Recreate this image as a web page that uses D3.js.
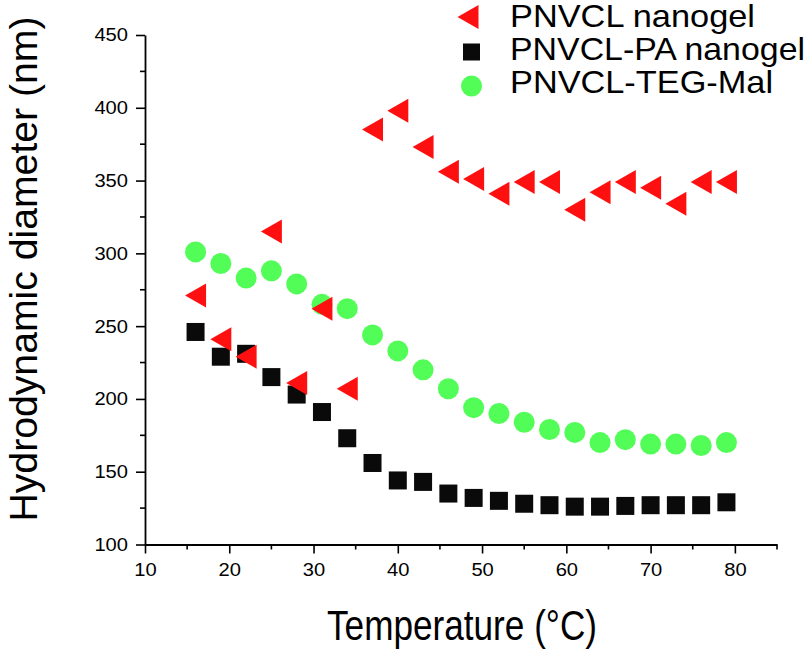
<!DOCTYPE html>
<html><head><meta charset="utf-8">
<script src="https://cdn.jsdelivr.net/npm/d3@7"></script>
<style>body{margin:0;background:#fff}svg{display:block}text{font-family:"Liberation Sans",Arial,sans-serif}</style>
</head><body>
<svg id="c" width="810" height="650"></svg>
<script>
const temps = [16,19,22,25,28,31,34,37,40,43,46,49,52,55,58,61,64,67,70,73,76,79];
const pnvcl = [271,241,229,315,211,262,207,385,398,373,356,351,341,349,349,330,342,349,345,334,349,349];
const pnvclPA = [246,229,231,215,203,191,173,156,144,143,135,132,130,128,127,126,126,126.5,127,127,127,129];
const pnvclTEG = [301,293,283,288,279,265,262,244,233,220,207,194,190,184,179,177,170,172,169,169,168,170];
const seriesNames = ["PNVCL nanogel","PNVCL-PA nanogel","PNVCL-TEG-Mal"];
const xTicks = [10,20,30,40,50,60,70,80];
const yTicks = [100,150,200,250,300,350,400,450];

const svg = d3.select("#c");
const x = d3.scaleLinear().domain([10,85]).range([145,777]);
const y = d3.scaleLinear().domain([100,450]).range([544.5,35]);

// axes
const xAxis = d3.axisBottom(x).tickValues(xTicks).tickSize(9).tickPadding(9).tickSizeOuter(0);
const gx = svg.append("g").attr("transform","translate(0,544.5)").call(xAxis);
gx.append("g").selectAll("line").data(d3.range(15,90,10)).join("line")
  .attr("x1",d=>x(d)).attr("x2",d=>x(d)).attr("y1",0).attr("y2",5).attr("stroke","#000").attr("stroke-width",1.6);
const yAxis = d3.axisLeft(y).tickValues(yTicks).tickSize(9).tickPadding(8).tickSizeOuter(0);
const gy = svg.append("g").attr("transform","translate(145,0)").call(yAxis);
gy.append("g").selectAll("line").data(d3.range(125,450,50)).join("line")
  .attr("y1",d=>y(d)).attr("y2",d=>y(d)).attr("x1",0).attr("x2",-5).attr("stroke","#000").attr("stroke-width",1.6);
[gx,gy].forEach(g=>{
  g.select(".domain").attr("stroke","#000").attr("stroke-width",1.8);
  g.selectAll(".tick line").attr("stroke","#000").attr("stroke-width",1.6);
  g.selectAll(".tick text").attr("font-size",18.6).attr("fill","#000")
    .style("font-family","'Liberation Sans',Arial,sans-serif")
    .attr("textLength",d=>String(d).length*11.2).attr("lengthAdjust","spacingAndGlyphs");
});

// titles
svg.append("text").attr("x",462).attr("y",640).attr("text-anchor","middle").attr("font-size",42)
  .attr("textLength",270).attr("lengthAdjust","spacingAndGlyphs").text("Temperature (°C)");
svg.append("text").attr("transform","translate(36.5,269) rotate(-90)").attr("text-anchor","middle").attr("font-size",39)
  .attr("textLength",505).attr("lengthAdjust","spacingAndGlyphs").text("Hydrodynamic diameter (nm)");

const green = "#52fd57", red = "#ff1010", black = "#0a0a0a";
const tri = (cx,cy)=>`M${cx-10.5},${cy}L${cx+10.5},${cy-12}L${cx+10.5},${cy+12}Z`;

// data marks
svg.append("g").selectAll("circle").data(temps.map((t,i)=>[t,pnvclTEG[i]])).join("circle")
  .attr("cx",d=>x(d[0])).attr("cy",d=>y(d[1])).attr("r",10.5).attr("fill",green);
svg.append("g").selectAll("rect").data(temps.map((t,i)=>[t,pnvclPA[i]])).join("rect")
  .attr("x",d=>x(d[0])-9).attr("y",d=>y(d[1])-9).attr("width",18).attr("height",18).attr("fill",black);
svg.append("g").selectAll("path").data(temps.map((t,i)=>[t,pnvcl[i]])).join("path")
  .attr("d",d=>tri(x(d[0]),y(d[1]))).attr("fill",red);

// legend
const lg = svg.append("g");
const mk = [17,52,86], base = [27,60,93], lens = [245,295,263];
lg.append("path").attr("d",tri(468,mk[0])).attr("fill",red);
lg.append("rect").attr("x",463).attr("y",mk[1]-8.5).attr("width",17).attr("height",17).attr("fill",black);
lg.append("circle").attr("cx",471.5).attr("cy",mk[2]).attr("r",10.5).attr("fill",green);
lg.selectAll("text").data(seriesNames).join("text").attr("x",510).attr("y",(d,i)=>base[i]).attr("font-size",30.7)
  .attr("textLength",(d,i)=>lens[i]).attr("lengthAdjust","spacingAndGlyphs").text(d=>d);
</script>
</body></html>
